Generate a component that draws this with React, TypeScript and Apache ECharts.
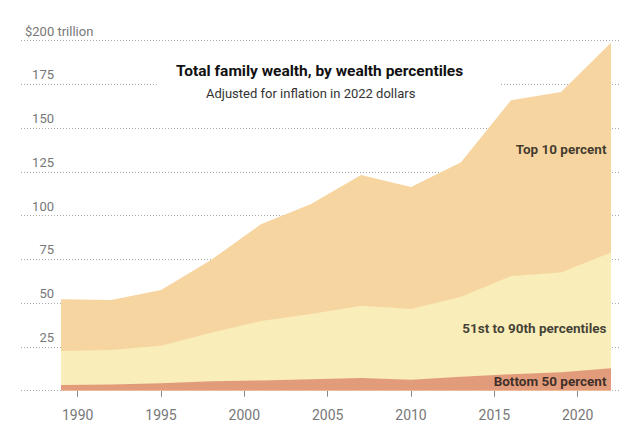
import React, { useEffect, useRef } from "react";
import * as echarts from "echarts";

const years = [1989, 1992, 1995, 1998, 2001, 2004, 2007, 2010, 2013, 2016, 2019, 2022];
const bottom50 = [3.3, 3.6, 4.2, 5.4, 5.9, 6.5, 7.3, 6.3, 8.0, 9.4, 10.5, 12.8];
const next40 = [19.4, 19.6, 21.5, 27.7, 33.9, 37.3, 41.3, 40.4, 45.7, 56.1, 57.1, 66.2];
const top10 = [29.5, 28.6, 31.8, 41.6, 55.3, 62.9, 74.7, 69.7, 76.8, 100.5, 103.1, 119.9];
const xTicks = [1990, 1995, 2000, 2005, 2010, 2015, 2020];
const seriesLabels = [
  { name: "Top 10 percent", year: 2022, value: 138 },
  { name: "51st to 90th percentiles", year: 2022, value: 36 },
  { name: "Bottom 50 percent", year: 2022, value: 5.5 },
];
const titleText = "Total family wealth, by wealth percentiles";
const subtitleText = "Adjusted for inflation in 2022 dollars";

const FONT = "Roboto, 'Liberation Sans', Arial, sans-serif";

export default function App() {
  const ref = useRef<HTMLDivElement>(null);
  useEffect(() => {
    if (!ref.current) return;
    const chart = echarts.init(ref.current, undefined, { renderer: "svg" });
    // cumulative tops of each band (drawn as overlapping areas from 0)
    const cumBottom = bottom50.map((v) => v);
    const cumMiddle = bottom50.map((v, i) => v + next40[i]);
    const cumTop = bottom50.map((v, i) => v + next40[i] + top10[i]);
    const pair = (arr: number[]) => arr.map((v, i) => [years[i], +v.toFixed(2)]);
    const area = (name: string, arr: number[], color: string, z: number) => ({
      name,
      type: "line",
      data: pair(arr),
      symbol: "none",
      silent: true,
      lineStyle: { width: 0 },
      areaStyle: { color, opacity: 1, origin: "start" },
      z,
    });
    chart.setOption({
      animation: false,
      textStyle: { fontFamily: FONT },
      title: [
        {
          text: titleText,
          left: 176,
          top: 63,
          padding: 0,
          z: 20,
          textStyle: { fontFamily: FONT, fontSize: 15.5, fontWeight: "bold", color: "#111" },
        },
        {
          text: subtitleText,
          left: 206,
          top: 87,
          padding: 0,
          z: 20,
          textStyle: { fontFamily: FONT, fontSize: 13, fontWeight: "normal", color: "#333" },
        },
      ],
      graphic: [
        {
          type: "rect",
          z: 10,
          silent: true,
          shape: { x: 158, y: 58, width: 342, height: 48 },
          style: { fill: "#fff" },
        },
      ],
      grid: { left: 21, right: 4, top: 40.7, bottom: 37.3 },
      xAxis: {
        type: "value",
        min: 1986.6,
        max: 2022.6,
        offset: 3,
        axisLine: { show: false },
        splitLine: { show: false },
        axisTick: {
          show: true,
          customValues: xTicks,
          length: 6,
          lineStyle: { color: "#888" },
        },
        axisLabel: {
          customValues: xTicks,
          formatter: (v: number) => String(v),
          color: "#777",
          fontSize: 14,
          margin: 14,
          fontFamily: FONT,
        },
      },
      yAxis: [
        {
          type: "value",
          min: 0,
          max: 200,
          interval: 25,
          position: "left",
          axisLine: { show: false },
          axisTick: { show: false },
          splitLine: { show: true, lineStyle: { color: "#aaa", type: [1, 2], width: 1 } },
          axisLabel: {
            inside: true,
            align: "right",
            verticalAlign: "bottom",
            margin: 33,
            padding: [0, 0, 3, 0],
            color: "#777",
            fontSize: 13,
            fontFamily: FONT,
            formatter: (v: number) => (v === 0 || v === 200 ? "" : String(v)),
          },
        },
        {
          type: "value",
          min: 0,
          max: 200,
          interval: 25,
          position: "left",
          axisLine: { show: false },
          axisTick: { show: false },
          splitLine: { show: false },
          axisLabel: {
            inside: true,
            align: "left",
            verticalAlign: "bottom",
            margin: 4,
            padding: [0, 0, 3, 0],
            color: "#777",
            fontSize: 13,
            fontFamily: FONT,
            formatter: (v: number) => (v === 200 ? "$200 trillion" : ""),
          },
        },
      ],
      series: [
        area("Top 10 percent", cumTop, "#f7d5a0", 2),
        area("51st to 90th percentiles", cumMiddle, "#f9edb9", 3),
        area("Bottom 50 percent", cumBottom, "#e29c7c", 4),
        {
          type: "scatter",
          silent: true,
          symbolSize: 1,
          itemStyle: { color: "rgba(0,0,0,0)" },
          data: seriesLabels.map((d) => [d.year, d.value, d.name]),
          label: {
            show: true,
            position: "left",
            distance: 4,
            formatter: (p: any) => p.data[2],
            fontFamily: FONT,
            fontSize: 13.5,
            fontWeight: "bold",
            color: "#111",
          },
          z: 6,
        },
      ],
    });
    return () => chart.dispose();
  }, []);
  return (
    <div
      ref={ref}
      style={{ position: "absolute", left: 0, top: 0, width: 625, height: 428 }}
    />
  );
}
